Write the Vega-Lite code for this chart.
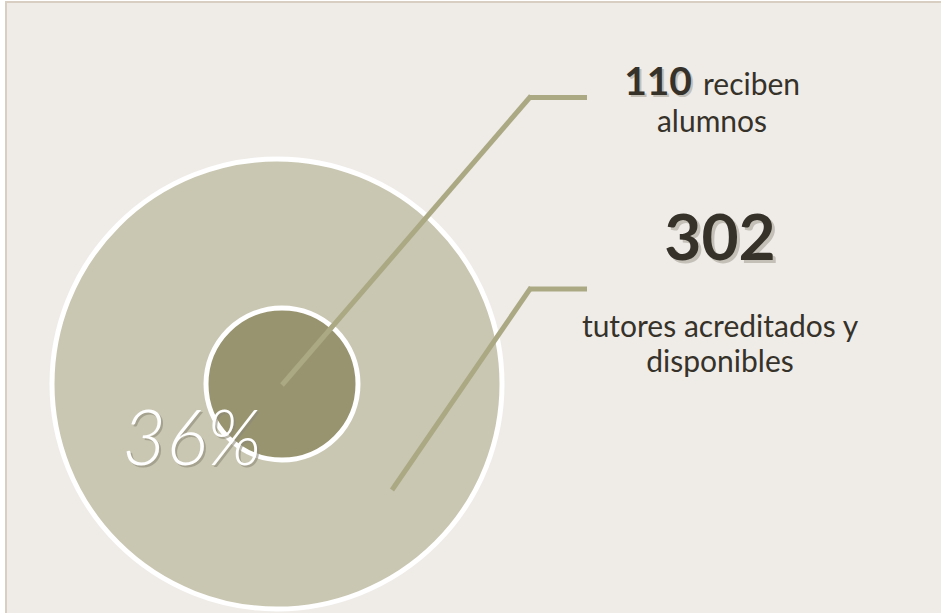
{
  "$schema": "https://vega.github.io/schema/vega-lite/v6.json",
  "width": 941,
  "height": 613,
  "padding": 0,
  "autosize": {"type": "none"},
  "background": "#FFFFFF",
  "config": {"view": {"stroke": null}},
  "datasets": {
    "tutores": [
      {"grupo": "tutores acreditados y disponibles", "n": 302, "porcentaje": "36%"},
      {"grupo": "reciben alumnos", "n": 110, "porcentaje": "36%"}
    ]
  },
  "resolve": {"scale": {"x": "shared", "y": "shared", "size": "shared"}},
  "layer": [
    {
      "data": {"values": [{"panel": "fondo"}]},
      "mark": {"type": "rect", "fill": "#EFECE8", "stroke": "#D8CFC2", "strokeWidth": 2},
      "encoding": {
        "x": {"datum": 6, "type": "quantitative", "scale": {"domain": [0, 941], "nice": false, "zero": false}, "axis": null},
        "x2": {"datum": 960},
        "y": {"datum": 2, "type": "quantitative", "scale": {"domain": [0, 613], "nice": false, "zero": false, "reverse": true}, "axis": null},
        "y2": {"datum": 640}
      }
    },
    {
      "data": {"name": "tutores"},
      "transform": [{"filter": "datum.n == 302"}],
      "mark": {"type": "point", "shape": "circle", "filled": true, "fill": "#C9C7B2", "stroke": "#FFFFFF", "strokeWidth": 5, "opacity": 1, "fillOpacity": 1, "strokeOpacity": 1},
      "encoding": {
        "x": {"datum": 277, "type": "quantitative"},
        "y": {"datum": 384, "type": "quantitative"},
        "size": {"field": "n", "type": "quantitative", "scale": {"type": "linear", "zero": false, "domain": [110, 302], "range": [23104, 202500]}, "legend": null}
      }
    },
    {
      "data": {"name": "tutores"},
      "transform": [{"filter": "datum.n == 110"}],
      "mark": {"type": "point", "shape": "circle", "filled": true, "fill": "#989470", "stroke": "#FFFFFF", "strokeWidth": 5, "opacity": 1, "fillOpacity": 1, "strokeOpacity": 1},
      "encoding": {
        "x": {"datum": 282, "type": "quantitative"},
        "y": {"datum": 384, "type": "quantitative"},
        "size": {"field": "n", "type": "quantitative", "legend": null}
      }
    },
    {
      "data": {"name": "tutores"},
      "transform": [{"filter": "datum.n == 110"}],
      "mark": {"type": "rule", "color": "#ABA884", "strokeWidth": 5, "strokeCap": "butt"},
      "encoding": {
        "x": {"datum": 282, "type": "quantitative"},
        "y": {"datum": 385, "type": "quantitative"},
        "x2": {"datum": 531},
        "y2": {"datum": 96}
      }
    },
    {
      "data": {"name": "tutores"},
      "transform": [{"filter": "datum.n == 110"}],
      "mark": {"type": "rule", "color": "#ABA884", "strokeWidth": 5, "strokeCap": "butt"},
      "encoding": {
        "x": {"datum": 529, "type": "quantitative"},
        "y": {"datum": 97.5, "type": "quantitative"},
        "x2": {"datum": 587},
        "y2": {"datum": 97.5}
      }
    },
    {
      "data": {"name": "tutores"},
      "transform": [{"filter": "datum.n == 302"}],
      "mark": {"type": "rule", "color": "#ABA884", "strokeWidth": 5, "strokeCap": "butt"},
      "encoding": {
        "x": {"datum": 392, "type": "quantitative"},
        "y": {"datum": 490, "type": "quantitative"},
        "x2": {"datum": 531},
        "y2": {"datum": 287.5}
      }
    },
    {
      "data": {"name": "tutores"},
      "transform": [{"filter": "datum.n == 302"}],
      "mark": {"type": "rule", "color": "#ABA884", "strokeWidth": 5, "strokeCap": "butt"},
      "encoding": {
        "x": {"datum": 529, "type": "quantitative"},
        "y": {"datum": 289, "type": "quantitative"},
        "x2": {"datum": 587},
        "y2": {"datum": 289}
      }
    },
    {
      "data": {"name": "tutores"},
      "transform": [{"filter": "datum.n == 302"}],
      "mark": {"type": "text", "font": "Lato", "fontSize": 76, "fontStyle": "italic", "fontWeight": 300, "color": "#8E8A78", "opacity": 0.6, "align": "center", "baseline": "alphabetic", "dx": 2, "dy": 2},
      "encoding": {
        "x": {"datum": 192, "type": "quantitative"},
        "y": {"datum": 465, "type": "quantitative"},
        "text": {"field": "porcentaje"}
      }
    },
    {
      "data": {"name": "tutores"},
      "transform": [{"filter": "datum.n == 302"}],
      "mark": {"type": "text", "font": "Lato", "fontSize": 76, "fontStyle": "italic", "fontWeight": 300, "color": "#FFFFFF", "align": "center", "baseline": "alphabetic"},
      "encoding": {
        "x": {"datum": 192, "type": "quantitative"},
        "y": {"datum": 465, "type": "quantitative"},
        "text": {"field": "porcentaje"}
      }
    },
    {
      "data": {"name": "tutores"},
      "transform": [{"filter": "datum.n == 110"}],
      "mark": {"type": "text", "font": "Lato", "fontSize": 39, "fontWeight": "bold", "color": "#A8A398", "opacity": 0.6, "align": "right", "baseline": "alphabetic", "dx": 2, "dy": 2},
      "encoding": {
        "x": {"datum": 692, "type": "quantitative"},
        "y": {"datum": 95, "type": "quantitative"},
        "text": {"field": "n", "type": "quantitative"}
      }
    },
    {
      "data": {"name": "tutores"},
      "transform": [{"filter": "datum.n == 110"}],
      "mark": {"type": "text", "font": "Lato", "fontSize": 39, "fontWeight": "bold", "color": "#36322A", "align": "right", "baseline": "alphabetic"},
      "encoding": {
        "x": {"datum": 692, "type": "quantitative"},
        "y": {"datum": 95, "type": "quantitative"},
        "text": {"field": "n", "type": "quantitative"}
      }
    },
    {
      "data": {"name": "tutores"},
      "transform": [{"filter": "datum.n == 110"}],
      "mark": {"type": "text", "font": "Lato", "fontSize": 30, "color": "#36322A", "align": "left", "baseline": "alphabetic"},
      "encoding": {
        "x": {"datum": 703, "type": "quantitative"},
        "y": {"datum": 95, "type": "quantitative"},
        "text": {"value": "reciben"}
      }
    },
    {
      "data": {"name": "tutores"},
      "transform": [{"filter": "datum.n == 110"}],
      "mark": {"type": "text", "font": "Lato", "fontSize": 30, "color": "#36322A", "align": "center", "baseline": "alphabetic"},
      "encoding": {
        "x": {"datum": 712, "type": "quantitative"},
        "y": {"datum": 132, "type": "quantitative"},
        "text": {"value": "alumnos"}
      }
    },
    {
      "data": {"name": "tutores"},
      "transform": [{"filter": "datum.n == 302"}],
      "mark": {"type": "text", "font": "Lato", "fontSize": 64, "fontWeight": "bold", "color": "#A8A398", "opacity": 0.6, "align": "center", "baseline": "alphabetic", "dx": 3, "dy": 3},
      "encoding": {
        "x": {"datum": 720, "type": "quantitative"},
        "y": {"datum": 260, "type": "quantitative"},
        "text": {"field": "n", "type": "quantitative"}
      }
    },
    {
      "data": {"name": "tutores"},
      "transform": [{"filter": "datum.n == 302"}],
      "mark": {"type": "text", "font": "Lato", "fontSize": 64, "fontWeight": "bold", "color": "#36322A", "align": "center", "baseline": "alphabetic"},
      "encoding": {
        "x": {"datum": 720, "type": "quantitative"},
        "y": {"datum": 260, "type": "quantitative"},
        "text": {"field": "n", "type": "quantitative"}
      }
    },
    {
      "data": {"name": "tutores"},
      "transform": [{"filter": "datum.n == 302"}],
      "mark": {"type": "text", "font": "Lato", "fontSize": 30, "color": "#36322A", "align": "center", "baseline": "alphabetic", "lineHeight": 35},
      "encoding": {
        "x": {"datum": 720, "type": "quantitative"},
        "y": {"datum": 337, "type": "quantitative"},
        "text": {"value": ["tutores acreditados y", "disponibles"]}
      }
    }
  ]
}
